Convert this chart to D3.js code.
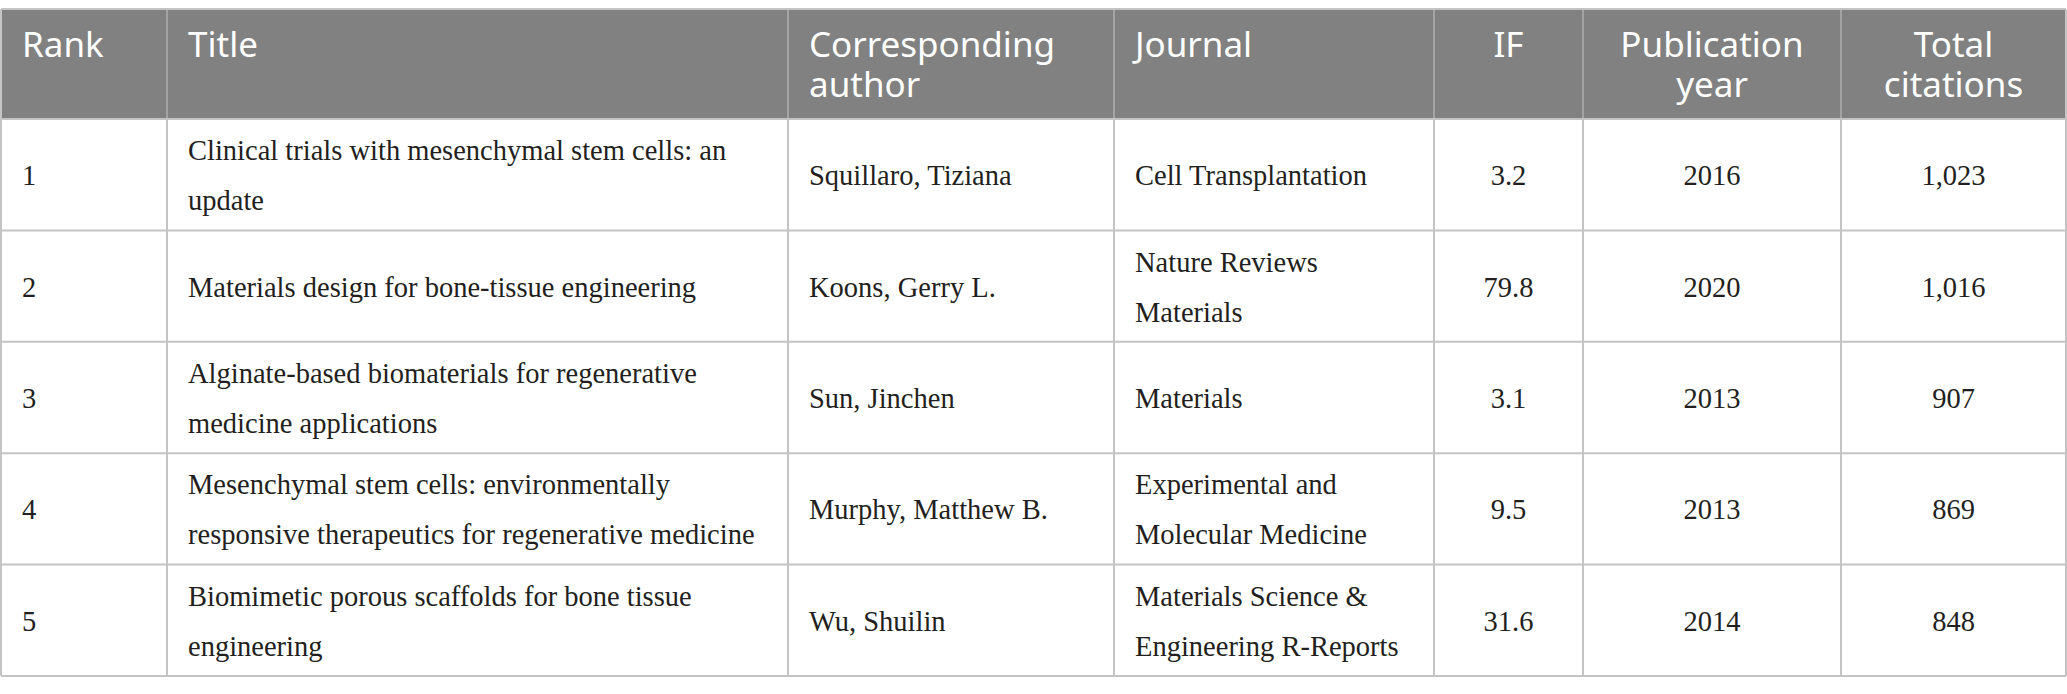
<!DOCTYPE html>
<html>
<head>
<meta charset="utf-8">
<script src="https://cdn.jsdelivr.net/npm/d3@7"></script>
<style>
  body { margin: 0; background: #fff; }
</style>
</head>
<body>
<div id="table"></div>
<script>
// table content
const headers = [['Rank'], ['Title'], ['Corresponding', 'author'], ['Journal'], ['IF'], ['Publication', 'year'], ['Total', 'citations']];
const ranks = ['1', '2', '3', '4', '5'];
const titles = [
  ['Clinical trials with mesenchymal stem cells: an', 'update'],
  ['Materials design for bone-tissue engineering'],
  ['Alginate-based biomaterials for regenerative', 'medicine applications'],
  ['Mesenchymal stem cells: environmentally', 'responsive therapeutics for regenerative medicine'],
  ['Biomimetic porous scaffolds for bone tissue', 'engineering']
];
const authors = ['Squillaro, Tiziana', 'Koons, Gerry L.', 'Sun, Jinchen', 'Murphy, Matthew B.', 'Wu, Shuilin'];
const journals = [
  ['Cell Transplantation'],
  ['Nature Reviews', 'Materials'],
  ['Materials'],
  ['Experimental and', 'Molecular Medicine'],
  ['Materials Science &', 'Engineering R-Reports']
];
const impactFactors = ['3.2', '79.8', '3.1', '9.5', '31.6'];
const years = ['2016', '2020', '2013', '2013', '2014'];
const citations = ['1,023', '1,016', '907', '869', '848'];

const width = 2067;
const height = 694;

// column widths and alignment
const colWidths = [166, 621, 326, 320, 149, 258, 225];
const colAlign = ['left', 'left', 'left', 'left', 'middle', 'middle', 'middle'];
const colEdges = [1].concat(Array.from(d3.cumsum(colWidths), d => d + 1));
const pad = 21;

const headTop = 9;
const headBottom = 119;
const tableBottom = 676;

const svg = d3.select('#table')
  .append('svg')
  .attr('width', width)
  .attr('height', height);

// rows through a band scale
const rowScale = d3.scaleBand()
  .domain(ranks)
  .range([headBottom, tableBottom]);

const rows = ranks.map((r, i) => [
  [r], titles[i], [authors[i]], journals[i], [impactFactors[i]], [years[i]], [citations[i]]
]);

function textX(c) {
  if (colAlign[c] === 'middle') return (colEdges[c] + colEdges[c + 1]) / 2;
  return colEdges[c] + pad;
}

// header background
svg.append('rect')
  .attr('x', colEdges[0])
  .attr('y', headTop)
  .attr('width', colEdges[colEdges.length - 1] - colEdges[0])
  .attr('height', headBottom - headTop)
  .attr('fill', '#808180');

// header text
const headGroup = svg.append('g').attr('class', 'header');
headers.forEach((lines, c) => {
  const t = headGroup.append('text')
    .attr('x', textX(c))
    .attr('text-anchor', colAlign[c] === 'middle' ? 'middle' : 'start')
    .attr('font-family', '"Noto Sans", sans-serif')
    .attr('font-size', 35)
    .attr('fill', '#fff');
  lines.forEach((l, k) => {
    t.append('tspan')
      .attr('x', textX(c))
      .attr('y', headTop + 48 + k * 40)
      .text(l);
  });
});

// body text
const lineH = 50;
const bodyGroup = svg.append('g').attr('class', 'body');
rows.forEach((cells, i) => {
  const cy = rowScale(ranks[i]) + rowScale.bandwidth() / 2;
  cells.forEach((lines, c) => {
    const t = bodyGroup.append('text')
      .attr('text-anchor', colAlign[c] === 'middle' ? 'middle' : 'start')
      .attr('font-family', '"Liberation Serif", serif')
      .attr('font-size', 28.5)
      .attr('fill', '#231f20');
    const top = cy - lines.length * lineH / 2;
    lines.forEach((l, k) => {
      t.append('tspan')
        .attr('x', textX(c))
        .attr('y', top + 35.5 + k * lineH)
        .text(l);
    });
  });
});

// grid lines
const grid = svg.append('g').attr('class', 'grid');
// vertical lines in the header
grid.selectAll('.vhead')
  .data(colEdges.slice(1, -1))
  .enter()
  .append('line')
  .attr('x1', d => d).attr('x2', d => d)
  .attr('y1', headTop).attr('y2', headBottom)
  .attr('stroke', '#a3a4a3')
  .attr('stroke-width', 2);
// vertical lines in the body
grid.selectAll('.vbody')
  .data(colEdges)
  .enter()
  .append('line')
  .attr('x1', d => d).attr('x2', d => d)
  .attr('y1', d => (d === colEdges[0] || d === colEdges[colEdges.length - 1]) ? headTop : headBottom)
  .attr('y2', tableBottom)
  .attr('stroke', '#c4c4c4')
  .attr('stroke-width', 2);
// horizontal lines
const hLines = [headTop, headBottom].concat(ranks.slice(1).map(r => rowScale(r)), [tableBottom]);
grid.selectAll('.h')
  .data(hLines)
  .enter()
  .append('line')
  .attr('x1', colEdges[0]).attr('x2', colEdges[colEdges.length - 1])
  .attr('y1', d => d).attr('y2', d => d)
  .attr('stroke', '#c4c4c4')
  .attr('stroke-width', 2);
</script>
</body>
</html>
